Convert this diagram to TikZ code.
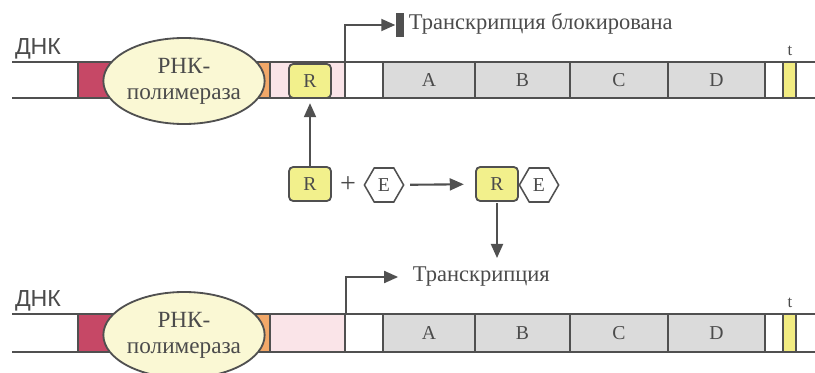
\documentclass[tikz,border=0pt]{standalone}
\usepackage{fontspec}
\setmainfont{Liberation Serif}
\newfontfamily\dnkfont{Liberation Sans}
\usetikzlibrary{shapes.geometric,arrows.meta}

\definecolor{linec}{RGB}{80,80,80}
\definecolor{txtc}{RGB}{75,75,75}
\definecolor{crimson}{RGB}{198,72,102}
\definecolor{orangec}{RGB}{242,168,105}
\definecolor{pinkc}{RGB}{250,228,232}
\definecolor{geneg}{RGB}{219,219,219}
\definecolor{ryellow}{RGB}{242,240,140}
\definecolor{tyellow}{RGB}{242,236,130}
\definecolor{polc}{RGB}{250,248,212}

\begin{document}
\begin{tikzpicture}[x=0.025cm,y=-0.025cm,
  seg/.style={draw=linec, line width=1.1pt},
  arr/.style={draw=linec, line width=1.5pt, -{Triangle[length=10pt,width=8.5pt]}},
  lbl/.style={text=txtc, font=\fontsize{16}{18}\selectfont},
  gene/.style={text=txtc, font=\fontsize{14}{16}\selectfont},
  dnk/.style={text=txtc, font=\dnkfont\fontsize{16.5}{18}\selectfont},
  tlab/.style={text=txtc, font=\fontsize{12}{14}\selectfont},
  pol/.style={ellipse, draw=linec, line width=1.3pt, fill=polc, minimum width=3.5cm,
    minimum height=2.15cm, inner sep=0pt, align=center, text=txtc,
    font=\fontsize{16.5}{18.5}\selectfont},
  rbox/.style={draw=linec, line width=1.3pt, fill=ryellow, rounded corners=3pt,
    minimum width=1.05cm, minimum height=0.85cm, inner sep=0pt, text=txtc,
    font=\fontsize{14}{16}\selectfont},
  hexa/.style={regular polygon, regular polygon sides=6, draw=linec, line width=1.1pt,
    fill=white, minimum size=0.98cm, inner sep=0pt, text=txtc,
    font=\fontsize{14}{16}\selectfont},
  blk/.style={fill=linec, minimum width=0.22cm, minimum height=0.62cm, inner sep=0pt}]

\useasboundingbox (0,0) rectangle (815,373);

% two DNA strips
\foreach \row/\ya/\yb/\ye in {top/62/98/81, bot/314/352/335}{
  \filldraw[seg, fill=crimson] (78,\ya) rectangle (140,\yb);
  \filldraw[seg, fill=orangec] (235,\ya) rectangle (270,\yb);
  \filldraw[seg, fill=pinkc] (270,\ya) rectangle (345,\yb);
  \draw[seg] (345,\ya) rectangle (383,\yb);
  \foreach \g/\xa/\xb in {A/383/475, B/475/570, C/570/668, D/668/765}{
    \filldraw[seg, fill=geneg] (\xa,\ya) rectangle (\xb,\yb);
    \node[gene] (\g-\row) at ({(\xa+\xb)/2},{(\ya+\yb)/2}) {\g};
  }
  \draw[seg] (765,\ya) rectangle (783,\yb);
  \filldraw[seg, fill=tyellow] (783,\ya) rectangle (796,\yb);
  \draw[seg] (12,\ya) -- (815,\ya) (12,\yb) -- (815,\yb);
  \node[pol] (pol-\row) at (184,\ye) {РНК-\\полимераза};
  \node[dnk] (dnk-\row) at (38,\ya-13) {ДНК};
  \node[tlab] (t-\row) at (790,\ya-11) {t};
}

\node[rbox] (R-top) at (310,81) {R};

% repressor + effector
\node[rbox] (R-free) at (310,184) {R};
\node[lbl, font=\fontsize{20}{20}\selectfont] (plus) at (348,185) {+};
\node[hexa] (E-free) at (384,185) {E};
\node[rbox] (R-bound) at (497,184) {R};
\node[hexa] (E-bound) at (539,185) {E};

\draw[arr, shorten >=3pt] (R-free.north) -- (R-top.south);
\draw[arr, shorten <=4pt, shorten >=8pt] (E-free) -- (R-bound);

% transcription starts
\coordinate (tss-top) at (345,62);
\coordinate (tss-bot) at (346,314);
\node[blk] (block) at (400,25) {};
\node[lbl, anchor=west] (blocked) at (404,24) {Транскрипция блокирована};
\node[lbl, anchor=west] (tr) at (408,277) {Транскрипция};

\draw[arr] (tss-top) |- (block.west);
\draw[arr, shorten >=7pt] (tss-bot) |- (tr.west);
\draw[arr, shorten <=1pt, shorten >=3pt] (R-bound.south) -- (R-bound.south |- tr.north);
\end{tikzpicture}
\end{document}
